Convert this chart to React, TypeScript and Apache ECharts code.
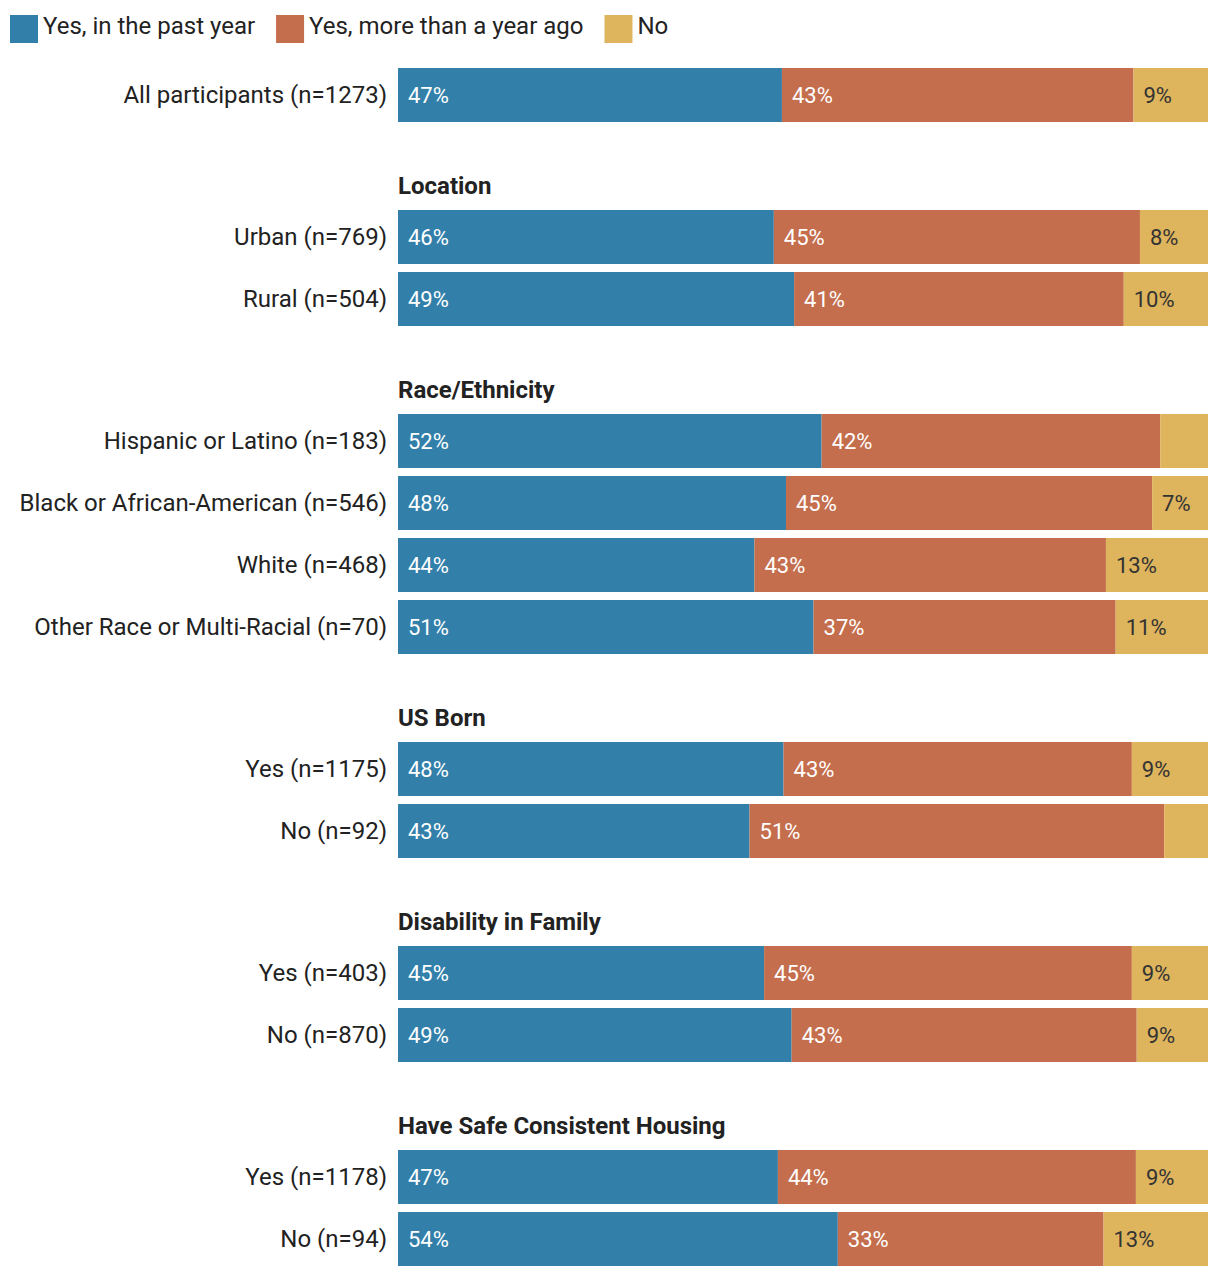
import React, { useEffect, useRef } from "react";
import * as echarts from "echarts";

const seriesNames = ["Yes, in the past year", "Yes, more than a year ago", "No"];
const seriesColors = ["#3280aa", "#c46e4d", "#deb45d"];
const labelColors = ["#ffffff", "#ffffff", "#333333"];

const groupTitles = ["", "Location", "Race/Ethnicity", "US Born", "Disability in Family", "Have Safe Consistent Housing"];
const groupSizes = [1, 2, 4, 2, 2, 2];

const categories = [
  "All participants (n=1273)",
  "Urban (n=769)",
  "Rural (n=504)",
  "Hispanic or Latino (n=183)",
  "Black or African-American (n=546)",
  "White (n=468)",
  "Other Race or Multi-Racial (n=70)",
  "Yes (n=1175)",
  "No (n=92)",
  "Yes (n=403)",
  "No (n=870)",
  "Yes (n=1178)",
  "No (n=94)",
];

const pastYear = [47.4, 46.4, 48.9, 52.3, 47.9, 44.0, 51.3, 47.6, 43.4, 45.2, 48.6, 46.9, 54.3];
const moreThanYear = [43.4, 45.2, 40.7, 41.8, 45.2, 43.4, 37.3, 43.0, 51.2, 45.4, 42.6, 44.2, 32.8];
const noAnswer = [9.2, 8.4, 10.4, 5.9, 6.9, 12.6, 11.4, 9.4, 5.4, 9.4, 8.8, 8.9, 12.9];

const measures = [pastYear, moreThanYear, noAnswer];

const FIRST_TOP = 64;
const ROW = 62;
const GAP = 80;
const LEFT = 398;
const RIGHT = 12;

export default function App() {
  const ref = useRef<HTMLDivElement>(null);

  useEffect(() => {
    document.body.style.margin = "0";
    const chart = echarts.init(ref.current as HTMLDivElement, null, { renderer: "svg" });

    const grids: any[] = [];
    const xAxes: any[] = [];
    const yAxes: any[] = [];
    const series: any[] = [];
    const graphics: any[] = [];

    let top = FIRST_TOP;
    let start = 0;
    groupSizes.forEach((size, g) => {
      const height = size * ROW;
      grids.push({ left: LEFT, right: RIGHT, top, height, containLabel: false });
      xAxes.push({
        type: "value",
        gridIndex: g,
        min: 0,
        max: 100,
        show: false,
      });
      yAxes.push({
        type: "category",
        gridIndex: g,
        inverse: true,
        data: categories.slice(start, start + size),
        axisLine: { show: false },
        axisTick: { show: false },
        splitLine: { show: false },
        axisLabel: {
          fontSize: 24,
          color: "#222222",
          fontFamily: "Roboto",
          margin: 11,
        },
      });
      measures.forEach((arr, m) => {
        series.push({
          type: "bar",
          name: seriesNames[m],
          xAxisIndex: g,
          yAxisIndex: g,
          stack: "g" + g,
          barWidth: 54,
          data: arr.slice(start, start + size),
          itemStyle: { color: seriesColors[m] },
          label: {
            show: true,
            position: "insideLeft",
            distance: 10,
            fontSize: 22,
            fontFamily: "Roboto",
            color: labelColors[m],
            formatter: (p: any) => (p.value >= 6.5 ? Math.round(p.value) + "%" : ""),
          },
          emphasis: { disabled: true },
        });
      });
      if (groupTitles[g]) {
        graphics.push({
          type: "text",
          x: LEFT,
          y: top - 20,
          style: {
            text: groupTitles[g],
            font: "bold 24px Roboto",
            fill: "#222222",
            verticalAlign: "middle",
          },
        });
      }
      top += height + GAP;
      start += size;
    });

    chart.setOption({
      animation: false,
      textStyle: { fontFamily: "Roboto" },
      legend: {
        left: 5,
        top: 9,
        itemWidth: 28,
        itemHeight: 28,
        itemGap: 21,
        icon: "rect",
        selectedMode: false,
        data: seriesNames,
        formatter: "{t|{name}}",
        textStyle: {
          fontSize: 24,
          color: "#222222",
          fontFamily: "Roboto",
          rich: {
            t: { fontSize: 24, color: "#222222", fontFamily: "Roboto", padding: [0, 0, 6, 0] },
          },
        },
      },
      grid: grids,
      xAxis: xAxes,
      yAxis: yAxes,
      series,
      graphic: graphics,
    });

    return () => chart.dispose();
  }, []);

  return <div ref={ref} style={{ width: 1220, height: 1278, position: "absolute", left: 0, top: 0 }} />;
}
